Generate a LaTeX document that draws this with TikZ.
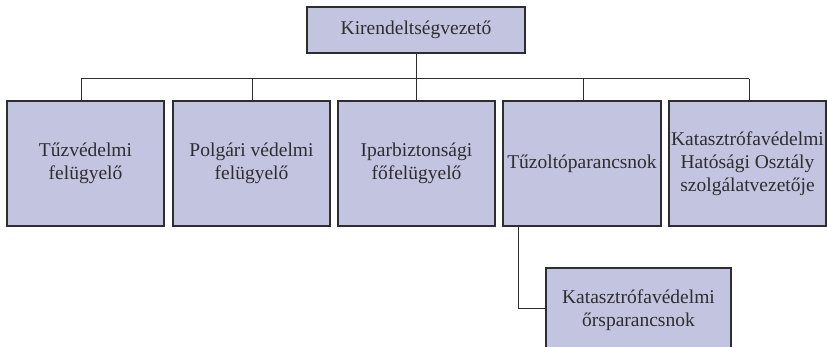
\documentclass[tikz,border=0pt]{standalone}
\usepackage{fontspec}
\setmainfont{Liberation Serif}
\usetikzlibrary{shadows}
\definecolor{boxfill}{RGB}{195,196,223}
\definecolor{ink}{RGB}{45,45,50}
\tikzset{
  orgbox/.style={draw=ink, line width=1.1pt, fill=boxfill, inner sep=0pt, align=center,
    text=ink, font=\fontsize{19.5}{23}\selectfont,
    drop shadow={shadow xshift=1.2pt, shadow yshift=-1.2pt, fill=black!75, opacity=1}},
  link/.style={draw=ink, line width=1pt}
}
\begin{document}
\begin{tikzpicture}[x=1pt,y=-1pt]
\useasboundingbox (0,0) rectangle (827,347);
\node[orgbox, minimum width=218pt, minimum height=46pt] (top) at (416,30) {Kirendeltségvezető};
\node[orgbox, minimum width=157pt, minimum height=125pt] (b1) at (85.5,163.5) {Tűzvédelmi\\felügyelő};
\node[orgbox, minimum width=157pt, minimum height=125pt] (b2) at (251.5,163.5) {Polgári védelmi\\felügyelő};
\node[orgbox, minimum width=157pt, minimum height=125pt] (b3) at (416.5,163.5) {Iparbiztonsági\\főfelügyelő};
\node[orgbox, minimum width=158pt, minimum height=125pt] (b4) at (582,163.5) {Tűzoltóparancsnok};
\node[orgbox, minimum width=157pt, minimum height=125pt] (b5) at (747.5,163.5) {Katasztrófavédelmi\\Hatósági Osztály\\szolgálatvezetője};
\node[orgbox, minimum width=185pt, minimum height=84pt] (b6) at (638.5,310) {Katasztrófavédelmi\\őrsparancsnok};
\coordinate (hl) at (81,79);
\coordinate (hr) at (749,79);
\draw[link] (top.south) -- (top.south |- hl);
\draw[link] (hl) -- (hr);
\draw[link] (hl) -- (hl |- b1.north);
\draw[link] (252,79) -- (252,101);
\draw[link] (416,79) -- (416,101);
\draw[link] (583,79) -- (583,101);
\draw[link] (hr) -- (hr |- b5.north);
\coordinate (c4) at (518,226);
\draw[link] (c4) |- (b6.west |- 0,308);
\end{tikzpicture}
\end{document}
